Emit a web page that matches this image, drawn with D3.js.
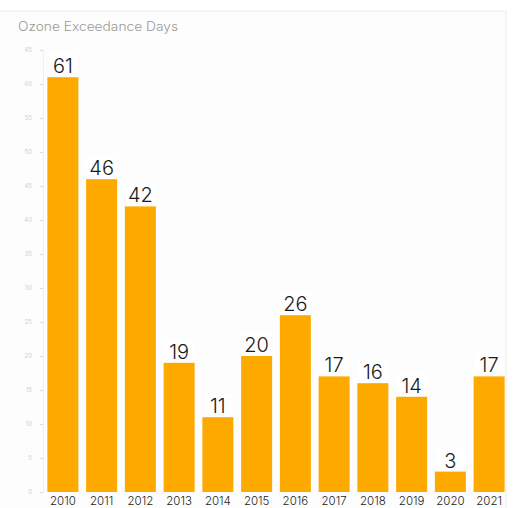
<!DOCTYPE html>
<html>
<head>
<meta charset="utf-8">
<script src="https://cdn.jsdelivr.net/npm/d3@7"></script>
<style>
  html, body { margin: 0; padding: 0; background: #fff; }
  svg { display: block; }
</style>
</head>
<body>
<svg id="chart" width="520" height="508"></svg>
<script>
const years = ["2010","2011","2012","2013","2014","2015","2016","2017","2018","2019","2020","2021"];
const exceedanceDays = [61, 46, 42, 19, 11, 20, 26, 17, 16, 14, 3, 17];
const yTicks = [0,5,10,15,20,25,30,35,40,45,50,55,60,65];
const chartTitle = "Ozone Exceedance Days";

const FONT = "Inter, 'Open Sans', sans-serif";
const svg = d3.select("#chart");

// card outline (faint)
svg.append("rect").attr("x", -2).attr("y", 11).attr("width", 508).attr("height", 500)
  .attr("fill", "#fdfdfd").attr("stroke", "#ececec").attr("stroke-width", 1);

svg.append("text").attr("x", 18).attr("y", 31)
  .attr("font-family", FONT).attr("font-weight", 300)
  .attr("font-size", 12.5).attr("fill", "#9a9a9a")
  .attr("textLength", 160).attr("lengthAdjust", "spacingAndGlyphs")
  .text(chartTitle);

const x = d3.scaleBand().domain(years).range([43.5, 508.5]).paddingInner(0.2).paddingOuter(0.1);
const y = d3.scaleLinear().domain([0, 65]).range([492, 50]);

// y axis (very faint)
const yAxis = svg.append("g").attr("transform", "translate(43,0)")
  .call(d3.axisLeft(y).tickValues(yTicks).tickSize(3).tickPadding(8));
yAxis.select(".domain").attr("stroke", "#f0f0f0");
yAxis.selectAll(".tick line").attr("stroke", "#dddddd");
yAxis.selectAll(".tick text").attr("fill", "#cfcfcf").attr("font-size", 6)
  .attr("font-family", FONT);

// bars
svg.append("g").selectAll("rect").data(years).join("rect")
  .attr("x", d => x(d))
  .attr("width", x.bandwidth())
  .attr("y", (d, i) => y(exceedanceDays[i]))
  .attr("height", (d, i) => y(0) - y(exceedanceDays[i]))
  .attr("fill", "#FDA900");

// value labels with white backgrounds
const lbl = svg.append("g").selectAll("g").data(years).join("g")
  .attr("transform", (d, i) => `translate(${x(d) + x.bandwidth() / 2},${y(exceedanceDays[i]) - 4})`);
lbl.append("rect").attr("x", -15).attr("y", -19).attr("width", 30).attr("height", 19).attr("fill", "#fff");
lbl.append("text").attr("text-anchor", "middle")
  .attr("font-family", FONT).attr("font-weight", 300)
  .attr("font-size", 20).attr("fill", "#1a1a1a")
  .text((d, i) => exceedanceDays[i]);

// x axis labels
const xAxis = svg.append("g").attr("transform", "translate(0,492)")
  .call(d3.axisBottom(x).tickSize(0).tickPadding(5));
xAxis.select(".domain").remove();
xAxis.selectAll(".tick text").attr("fill", "#222").attr("font-size", 11.5)
  .attr("font-weight", 300)
  .attr("font-family", FONT);
</script>
</body>
</html>
